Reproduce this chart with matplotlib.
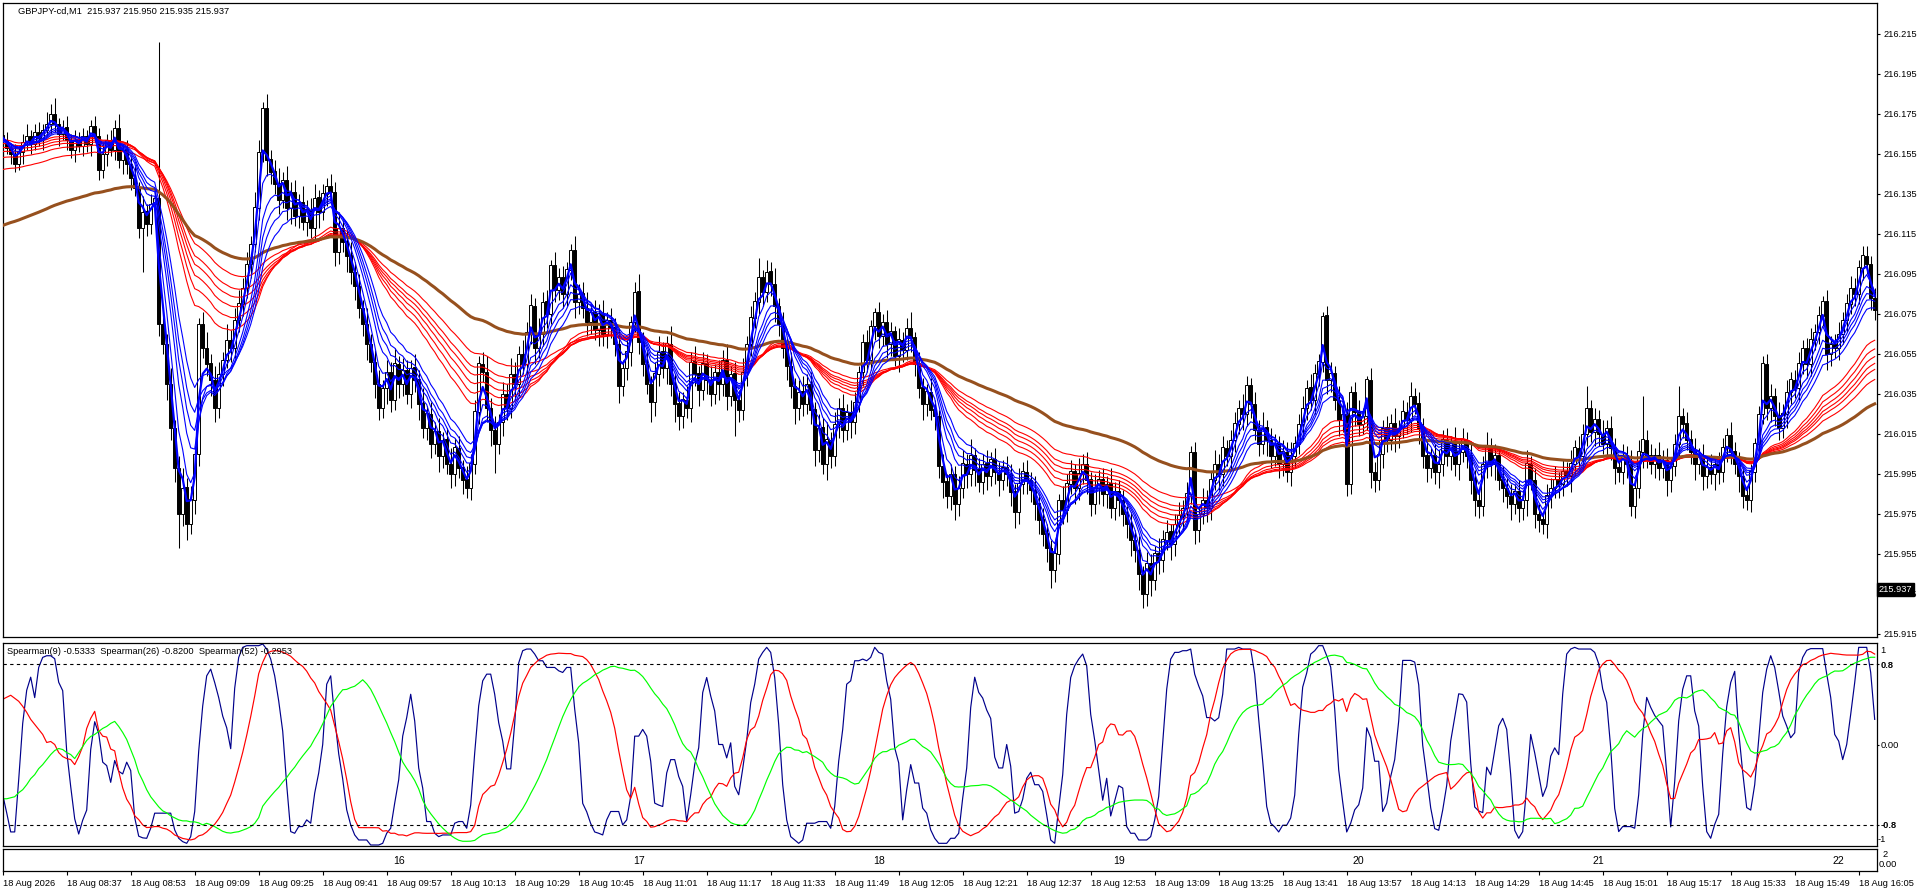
import numpy as np
import pandas as pd
import matplotlib
matplotlib.use("Agg")
import matplotlib.pyplot as plt
from matplotlib.transforms import blended_transform_factory as btf

plt.rcParams['font.family'] = ['Liberation Sans', 'DejaVu Sans']

# ---------------- data (prices in 0.001 units above BASE) ----------------
BASE = 215.900
PIP = 0.001
first_open_u = 264

closes_u = [
    262,258,255,250,256,261,264,260,266,263,267,270,275,270,265,268,262,257,262,259,
    264,260,269,264,247,255,262,257,268,252,257,250,243,238,218,226,220,230,233,170,
    160,140,118,98,75,88,70,82,105,170,158,150,142,128,145,152,162,158,172,180,
    188,200,210,228,256,278,252,246,240,232,242,228,236,224,231,221,227,218,233,226,
    235,239,236,206,218,211,204,196,189,178,170,160,151,140,128,138,146,132,150,140,
    147,135,148,142,130,118,125,110,116,104,112,100,95,108,98,92,88,100,126,150,
    146,128,117,110,121,135,128,145,140,155,150,166,179,158,165,181,175,199,187,193,
    185,197,207,181,185,178,171,176,167,175,165,172,168,160,139,148,156,171,186,161,
    150,140,131,145,156,148,160,140,130,124,132,128,151,145,137,150,142,135,146,140,
    152,134,145,132,127,146,160,173,181,193,186,196,190,179,170,158,149,139,128,136,
    130,140,127,107,118,100,112,104,120,128,117,126,121,131,146,161,152,169,176,164,
    171,160,166,154,162,157,168,163,150,138,130,136,127,124,99,91,84,95,80,88,
    100,95,104,97,91,100,94,102,96,92,98,95,86,76,90,96,92,87,80,72,
    65,58,47,55,82,77,90,96,88,95,100,92,80,88,92,85,90,78,86,82,
    75,70,62,57,45,35,50,42,55,52,62,66,60,70,74,78,85,106,67,75,
    82,78,92,100,95,108,104,112,120,128,125,139,130,117,110,118,112,104,110,100,
    106,96,104,110,120,128,138,132,145,151,174,142,145,132,122,125,90,136,126,120,
    124,142,96,92,105,118,112,120,114,118,126,122,134,130,118,104,98,104,96,100,
    112,104,110,100,106,112,104,92,82,79,100,108,100,104,92,88,84,80,86,78,
    82,100,92,75,72,70,84,88,92,90,96,94,100,108,104,115,128,116,122,115,
    110,118,108,98,96,104,100,79,88,106,112,104,100,104,98,102,92,99,110,124,
    120,112,106,100,104,94,98,95,100,96,108,114,106,100,94,84,82,96,110,125,
    150,128,134,124,118,125,136,142,138,150,158,150,162,166,174,181,155,160,158,165,
    172,180,188,185,198,204,200,183,177,
]

wick_hi_u = [
    3,4,2,5,3,4,6,3,4,5,3,6,5,8,3,4,6,3,5,4,
    4,3,3,5,4,6,3,5,4,7,3,5,4,6,3,8,4,5,3,78,
    6,5,8,4,6,10,5,7,4,3,6,8,5,7,6,4,8,5,6,7,
    5,6,4,8,6,3,7,5,6,8,4,7,5,6,4,8,5,6,7,4,
    5,4,6,5,8,4,6,7,5,6,4,8,5,6,7,4,6,5,8,4,
    6,5,4,7,5,8,4,6,5,7,4,6,8,5,6,4,7,5,6,4,
    6,8,5,7,4,6,5,8,6,4,7,5,6,4,8,5,6,3,7,5,
    6,4,3,7,5,6,8,4,6,5,7,4,6,5,8,4,6,3,5,9,
    5,7,4,6,8,5,4,9,5,6,4,7,5,8,4,6,5,7,4,6,
    5,8,4,6,5,7,4,6,5,10,4,6,5,8,4,6,5,7,4,6,
    8,5,6,4,7,5,9,4,6,5,7,4,6,5,3,4,6,3,2,5,
    4,6,5,3,6,4,5,8,3,6,5,4,7,5,3,6,4,5,4,6,
    7,5,8,4,6,5,7,4,6,5,4,6,5,4,8,5,6,4,7,5,
    6,5,4,6,3,7,5,6,4,8,5,6,4,7,5,6,4,8,5,6,
    5,4,6,5,7,4,6,5,4,8,5,6,4,5,7,4,6,3,5,4,
    6,5,4,7,5,6,4,5,6,4,7,5,4,6,5,8,4,6,5,4,
    6,5,7,4,5,6,4,7,5,4,2,5,6,4,7,5,6,3,5,6,
    4,2,6,5,7,4,6,5,8,4,6,5,7,4,6,5,8,4,6,7,
    5,6,4,8,5,6,4,7,5,6,4,8,5,6,4,7,5,6,4,6,
    5,7,4,6,5,4,6,5,7,4,6,5,7,4,6,5,11,4,6,5,
    7,4,6,5,4,6,5,7,4,6,22,5,6,4,7,5,6,4,5,15,
    4,6,5,7,4,6,5,7,4,6,5,4,7,5,6,4,5,4,3,4,
    4,5,6,4,7,5,6,4,5,6,4,5,6,4,5,3,6,4,5,6,
    4,5,6,5,4,5,5,4,5,
]

wick_lo_u = [
    4,3,5,4,3,6,4,5,3,4,6,3,5,4,6,3,5,4,6,3,
    5,4,6,3,5,4,6,3,5,4,7,5,6,4,5,22,6,5,4,6,
    5,8,6,7,17,6,8,5,7,6,5,6,8,7,5,6,4,7,5,6,
    6,5,7,4,6,5,8,6,5,7,4,6,8,5,6,4,7,5,6,8,
    4,6,5,7,6,5,8,6,7,5,6,8,5,7,6,5,8,6,5,7,
    6,5,7,6,8,5,6,7,5,8,6,5,7,6,5,7,5,6,5,6,
    5,7,8,15,5,7,6,5,8,6,5,7,6,8,5,6,7,5,6,5,
    7,6,5,8,6,5,7,6,5,8,6,7,5,6,9,5,6,7,5,6,
    6,5,10,7,6,5,8,6,9,7,6,5,7,6,8,5,7,6,5,8,
    6,7,5,18,6,5,7,6,5,6,7,5,6,8,6,5,7,6,8,6,
    6,5,7,8,6,5,8,6,5,7,6,5,8,6,5,7,6,5,7,6,
    5,7,6,5,8,6,5,7,6,5,8,6,5,7,6,8,6,7,8,6,
    5,7,6,8,5,6,7,5,6,8,5,6,7,8,6,5,7,6,8,7,
    6,7,9,6,5,7,6,5,8,6,5,7,6,5,8,6,7,5,6,8,
    6,7,8,6,8,7,6,8,5,7,6,5,8,6,5,7,6,5,7,6,
    5,7,6,5,8,6,5,7,6,5,8,6,7,5,6,5,8,6,5,7,
    6,5,7,6,5,8,6,5,7,6,5,7,6,5,8,6,6,5,7,6,
    5,7,8,6,5,7,6,5,8,6,5,7,6,5,8,6,7,5,6,8,
    6,5,7,6,8,5,6,7,8,6,5,7,6,8,5,7,6,8,5,7,
    6,8,5,7,6,5,7,6,5,7,6,5,8,6,5,7,6,5,7,6,
    5,7,6,8,5,6,7,5,6,5,8,6,5,7,6,5,8,6,5,6,
    7,5,6,8,5,7,6,5,8,6,5,7,6,5,8,6,5,6,5,6,
    5,6,7,5,6,5,7,6,5,6,5,7,6,5,6,5,8,6,5,6,
    5,6,5,6,5,6,5,6,5,
]

fast_periods = [3, 5, 8, 10, 12, 15]
fast_seeds_u = [263, 263, 262, 262, 261, 261]
slow_periods = [30, 35, 40, 45, 50, 60]
slow_seeds_u = [262, 260, 258, 256, 253, 247]
trend_period = 100
trend_seed_u = 219

spearman_periods = [9, 26, 52]
spearman_colors = ['#00008B', '#FF0000', '#00FF00']
# indicator values for the first bars (before each window is full)
spearman9_start = [-0.50, -0.68, -0.87, -0.87, -0.35, 0.21, 0.54, 0.67]
spearman26_start = [0.45, 0.47, 0.49, 0.46, 0.43, 0.38, 0.32, 0.25, 0.20, 0.15,
                    0.10, 0.02, 0.03, 0.00, -0.08, -0.12, -0.14, -0.15, -0.20, -0.12,
                    -0.02, 0.16, 0.26, 0.33, 0.14]
spearman52_start = [-0.54, -0.54, -0.53, -0.52, -0.48, -0.45, -0.40, -0.34, -0.30, -0.24,
                    -0.20, -0.15, -0.10, -0.06, -0.04, -0.05, -0.08, -0.10, -0.14, -0.08,
                    -0.02, 0.04, 0.08, 0.10, 0.13, 0.16, 0.18, 0.21, 0.23, 0.18,
                    0.12, 0.05, -0.05, -0.15, -0.28, -0.36, -0.45, -0.52, -0.57, -0.62,
                    -0.66, -0.68, -0.71, -0.73, -0.75, -0.76, -0.76, -0.77, -0.77, -0.78,
                    -0.80]
spearman_starts = [spearman9_start, spearman26_start, spearman52_start]

price_ticks = [216.215, 216.195, 216.175, 216.155, 216.135, 216.115, 216.095,
               216.075, 216.055, 216.035, 216.015, 215.995, 215.975, 215.955,
               215.935, 215.915]
time_labels = ["18 Aug 2026", "18 Aug 08:37", "18 Aug 08:53", "18 Aug 09:09",
               "18 Aug 09:25", "18 Aug 09:41", "18 Aug 09:57", "18 Aug 10:13",
               "18 Aug 10:29", "18 Aug 10:45", "18 Aug 11:01", "18 Aug 11:17",
               "18 Aug 11:33", "18 Aug 11:49", "18 Aug 12:05", "18 Aug 12:21",
               "18 Aug 12:37", "18 Aug 12:53", "18 Aug 13:09", "18 Aug 13:25",
               "18 Aug 13:41", "18 Aug 13:57", "18 Aug 14:13", "18 Aug 14:29",
               "18 Aug 14:45", "18 Aug 15:01", "18 Aug 15:17", "18 Aug 15:33",
               "18 Aug 15:49", "18 Aug 16:05"]
time_label_bars = [16 * k for k in range(len(time_labels))]
hour_labels = ["16", "17", "18", "19", "20", "21", "22"]
hour_label_bars = [99, 159, 219, 279, 339, 399, 459]
header_text = "GBPJPY-cd,M1  215.937 215.950 215.935 215.937"
ind_text = "Spearman(9) -0.5333  Spearman(26) -0.8200  Spearman(52) -0.2953"
bid_price = 215.937

# ---------------- derived series ----------------
N = len(closes_u)
c = BASE + np.array(closes_u, float) * PIP
o = np.r_[BASE + first_open_u * PIP, c[:-1]]
wh = np.array((wick_hi_u + [4] * N)[:N], float) * PIP
wl = np.array((wick_lo_u + [5] * N)[:N], float) * PIP
h = np.maximum(o, c) + wh
l = np.minimum(o, c) - wl
x = np.arange(N)


def ema(vals, period, seed):
    a = 2.0 / (period + 1.0)
    out = np.empty(len(vals))
    out[0] = seed
    for t in range(1, len(vals)):
        out[t] = out[t - 1] + a * (vals[t] - out[t - 1])
    return out


def spearman(vals, n, start_vals):
    out = np.full(len(vals), np.nan)
    out[:len(start_vals)] = start_vals
    tr = np.arange(1, n + 1, dtype=float)
    for t in range(n - 1, len(vals)):
        w = vals[t - n + 1:t + 1]
        r = pd.Series(w).rank().values
        out[t] = 0.0 if np.std(r) == 0 else np.corrcoef(r, tr)[0, 1]
    return out


# ---------------- figure ----------------
W, H = 1920, 892
fig = plt.figure(figsize=(W / 100, H / 100), dpi=100, facecolor='white')


def rect(left, top, right, bottom):
    return [left / W, 1 - bottom / H, (right - left) / W, (bottom - top) / H]


ax = fig.add_axes(rect(3, 3, 1877, 637))
ax2 = fig.add_axes(rect(3, 643, 1877, 846))
ax3 = fig.add_axes(rect(3, 849, 1877, 871))

xl = (0.075, 468.575)
for a in (ax, ax2, ax3):
    a.set_xlim(*xl)
    for s in a.spines.values():
        s.set_linewidth(0.9)
        s.set_color('black')

FS = 6.7

# candles
ax.vlines(x, l, h, color='black', linewidth=0.75, zorder=2)
up = c >= o
dn = ~up
ax.bar(x[up], (c - o)[up], bottom=o[up], width=0.62, facecolor='white',
       edgecolor='black', linewidth=0.7, zorder=3)
ax.bar(x[dn], (o - c)[dn], bottom=c[dn], width=0.62, facecolor='black',
       edgecolor='black', linewidth=0.7, zorder=3)

# moving averages
for p, s in zip(slow_periods, slow_seeds_u):
    ax.plot(x, ema(c, p, BASE + s * PIP), color='#FF0000', linewidth=0.8, zorder=4)
ax.plot(x, ema(c, trend_period, BASE + trend_seed_u * PIP), color='#96501E',
        linewidth=2.2, zorder=5)
for p, s in zip(fast_periods, fast_seeds_u):
    ax.plot(x, ema(c, p, BASE + s * PIP), color='#0000FF',
            linewidth=1.6 if p == 3 else 0.8, zorder=6)

ax.set_ylim(215.91325, 216.23025)
ax.yaxis.tick_right()
ax.set_yticks(price_ticks)
ax.set_yticklabels([f"{v:.3f}" for v in price_ticks])
ax.tick_params(axis='y', length=2.5, width=0.8, pad=2, labelsize=FS)
ax.set_xticks([])
ax.text(1.0008, bid_price, f"{bid_price:.3f}", transform=btf(ax.transAxes, ax.transData),
        color='white', fontsize=FS, ha='left', va='center', zorder=10,
        bbox=dict(facecolor='black', edgecolor='black', pad=1.2), clip_on=False)
fig.text(18 / W, 1 - 11 / H, header_text, fontsize=FS, ha='left', va='center')

# indicator
for n, col, st in zip(spearman_periods, spearman_colors, spearman_starts):
    ax2.plot(x, spearman(c, n, st), color=col, linewidth=0.85)
for lv in (0.8, -0.8):
    ax2.axhline(lv, color='black', linewidth=0.8, linestyle=(0, (3, 3)))
ax2.set_ylim(-1.01, 1.01)
ax2.set_xticks([])
ax2.yaxis.tick_right()
ax2.set_yticks([0.8, 0.0, -0.8])
ax2.set_yticklabels(['0.8', '0.00', '-0.8'])
ax2.tick_params(axis='y', length=1.5, width=0.8, pad=1, labelsize=FS)
for lbl in ax2.get_yticklabels():
    if lbl.get_text() != '0.00':
        lbl.set_fontweight('bold')
tb2 = btf(ax2.transAxes, ax2.transData)
ax2.text(1.002, 0.94, '1', transform=tb2, fontsize=FS, ha='left', va='center')
ax2.text(1.0005, -0.95, '-1', transform=tb2, fontsize=FS, ha='left', va='center')
fig.text(7 / W, 1 - 651 / H, ind_text, fontsize=FS, ha='left', va='center')

# bottom strip
ax3.set_ylim(0, 1)
ax3.set_yticks([])
ax3.set_xticks(time_label_bars)
ax3.set_xticklabels(time_labels)
ax3.tick_params(axis='x', direction='out', length=3, width=0.8, pad=2.5, labelsize=FS)
for lbl in ax3.get_xticklabels():
    lbl.set_ha('left')
tb3 = btf(ax3.transData, ax3.transAxes)
for b, t in zip(hour_label_bars, hour_labels):
    ax3.text(b, 0.45, t, transform=tb3, fontsize=7.6, ha='center', va='center')
ax3.text(1.003, 0.75, '2', transform=ax3.transAxes, fontsize=FS, ha='left', va='center')
ax3.text(1.001, 0.3, '0.00', transform=ax3.transAxes, fontsize=FS, ha='left', va='center')

fig.savefig('out.png', dpi=100, facecolor='white')
